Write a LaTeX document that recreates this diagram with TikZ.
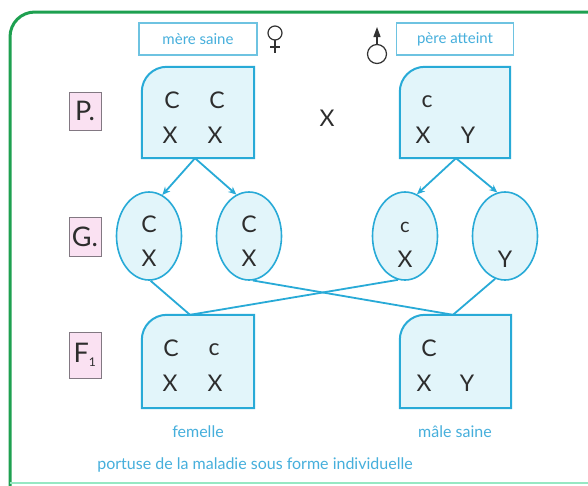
\documentclass[tikz,border=0pt]{standalone}
\usepackage{fontspec}
\setmainfont{Lato}
\usetikzlibrary{shapes.geometric,arrows.meta,calc}
\definecolor{frameg}{RGB}{30,160,80}
\definecolor{mintg}{RGB}{150,232,195}
\definecolor{cyanline}{RGB}{40,170,215}
\definecolor{boxfill}{RGB}{226,245,250}
\definecolor{txt}{RGB}{45,45,45}
\definecolor{tagline}{RGB}{110,195,225}
\definecolor{tagtext}{RGB}{70,175,220}
\definecolor{pinkf}{RGB}{250,225,242}
\definecolor{pinkline}{RGB}{130,120,130}
\newcommand\roundbox[1]{\draw[boxline] (#1.south west) -- ($(#1.north west)+(0,25)$) .. controls ($(#1.north west)+(0,11.2)$) and ($(#1.north west)+(11.2,0)$) .. ($(#1.north west)+(25,0)$) -- (#1.north east) -- (#1.south east) -- cycle;}
\begin{document}
\begin{tikzpicture}[x=1pt,y=-1pt,
  boxarea/.style={minimum width=112pt, minimum height=91pt, inner sep=0pt, draw=none},
  boxline/.style={draw=cyanline, line width=2pt, fill=boxfill},
  gam/.style={ellipse, draw=cyanline, line width=1.6pt, fill=boxfill, minimum width=65pt, minimum height=88pt, inner sep=0pt},
  allele/.style={text=txt, font=\fontsize{23}{23}\selectfont, inner sep=0pt},
  gen/.style={draw=pinkline, line width=0.8pt, fill=pinkf, minimum width=32pt, minimum height=38pt, inner sep=0pt, font=\fontsize{27}{27}\selectfont, text=txt},
  tag/.style={draw=tagline, line width=1.5pt, minimum width=118pt, minimum height=32pt, font=\fontsize{15}{15}\selectfont, text=tagtext, inner sep=0pt},
  caption/.style={text=tagtext, font=\fontsize{16}{16}\selectfont, inner sep=0pt},
  link/.style={draw=cyanline, line width=1.8pt},
  arr/.style={link, -{Stealth[length=8pt,width=7pt]}},
  sym/.style={draw=black!80, line width=1.2pt},
  frameline/.style={draw=frameg, line width=3pt},
  mintline/.style={draw=mintg, line width=2.5pt}]
\useasboundingbox (0,0) rectangle (588,485);
\clip (0,0) rectangle (588,485);
\fill[white] (0,0) rectangle (588,485);
% frame
\draw[frameline] (10,500) -- (10,37) .. controls (10,23) and (21,12) .. (35,12) -- (600,12);
\draw[mintline] (10,483) -- (600,483);
% top tags
\node[tag] (mere) at (198,39) {mère saine};
\node[tag, minimum width=117pt] (pere) at (455,39) {père atteint};
\coordinate (female) at (275,33);
\draw[sym] (female) circle (7);
\draw[sym] ($(female)+(0,7)$) -- ($(female)+(0,20)$);
\draw[sym] ($(female)+(-5,14)$) -- ($(female)+(5,14)$);
\coordinate (male) at (377,54);
\draw[sym] (male) circle (9.5);
\draw[sym, -{Triangle[length=10pt,width=7pt]}] ($(male)+(0,-9.5)$) -- ($(male)+(0,-27)$);
% generation labels
\node[gen] (lp) at (85,111) {P.};
\node[gen, minimum height=39pt] (lg) at (85,237) {G.};
\node[gen, minimum height=46pt] (lf) at (85,355) {F\textsubscript{\fontsize{12}{12}\selectfont 1}};
% parents
\node[boxarea] (pl) at (198,112.5) {};
\roundbox{pl}
\node[boxarea, minimum width=110pt] (pr) at (455,112.5) {};
\roundbox{pr}
\node[allele] (pl1) at (172,100) {C};
\node[allele] (pl2) at (217,100) {C};
\node[allele] (pl3) at (170,135) {X};
\node[allele] (pl4) at (215,135) {X};
\node[allele] (pr1) at (427,102) {c};
\node[allele] (pr3) at (423,135) {X};
\node[allele] (pr4) at (468,135) {Y};
\node[allele] (cross) at (327,118) {X};
% gametes
\node[gam] (g1) at (149,236) {};
\node[gam] (g2) at (249,236) {};
\node[gam] (g3) at (405,236) {};
\node[gam] (g4) at (505,236) {};
\node[allele] (g1a) at (149,224) {C};
\node[allele] (g1b) at (149,258) {X};
\node[allele] (g2a) at (249,224) {C};
\node[allele] (g2b) at (249,258) {X};
\node[allele, font=\fontsize{20}{20}\selectfont] (g3a) at (405,227) {c};
\node[allele] (g3b) at (405,259) {X};
\node[allele] (g4b) at (505,259) {Y};
% F1
\node[boxarea, minimum height=93pt] (fl) at (198,361.5) {};
\roundbox{fl}
\node[boxarea, minimum width=111pt, minimum height=93pt] (fr) at (455.5,361.5) {};
\roundbox{fr}
\node[allele] (fl1) at (171,348) {C};
\node[allele] (fl2) at (214,350) {c};
\node[allele] (fl3) at (170,383) {X};
\node[allele] (fl4) at (215,383) {X};
\node[allele] (fr1) at (429,348) {C};
\node[allele] (fr3) at (424,383) {X};
\node[allele] (fr4) at (467,383) {Y};
% arrows P -> G
\draw[arr] ($(pl.south)+(-3,0)$) -- (g1.72);
\draw[arr] ($(pl.south)+(-3,0)$) -- (g2.107);
\draw[arr] ($(pr.south)+(1,0)$) -- (g3.74);
\draw[arr] ($(pr.south)+(1,0)$) -- (g4.100);
% G -> F1
\draw[link] (g1.-88) -- ($(fl.north)+(-8,0)$);
\draw[link] (g3.-99) -- ($(fl.north)+(-8,0)$);
\draw[link] (g2.-85) -- ($(fr.north)+(-2.5,0)$);
\draw[link] (g4.-103) -- ($(fr.north)+(-2.5,0)$);
% captions
\node[caption] (fem) at (198,432) {femelle};
\node[caption] (mal) at (455,432) {mâle saine};
\node[caption] (port) at (255,465) {portuse de la maladie sous forme individuelle};
\end{tikzpicture}
\end{document}
